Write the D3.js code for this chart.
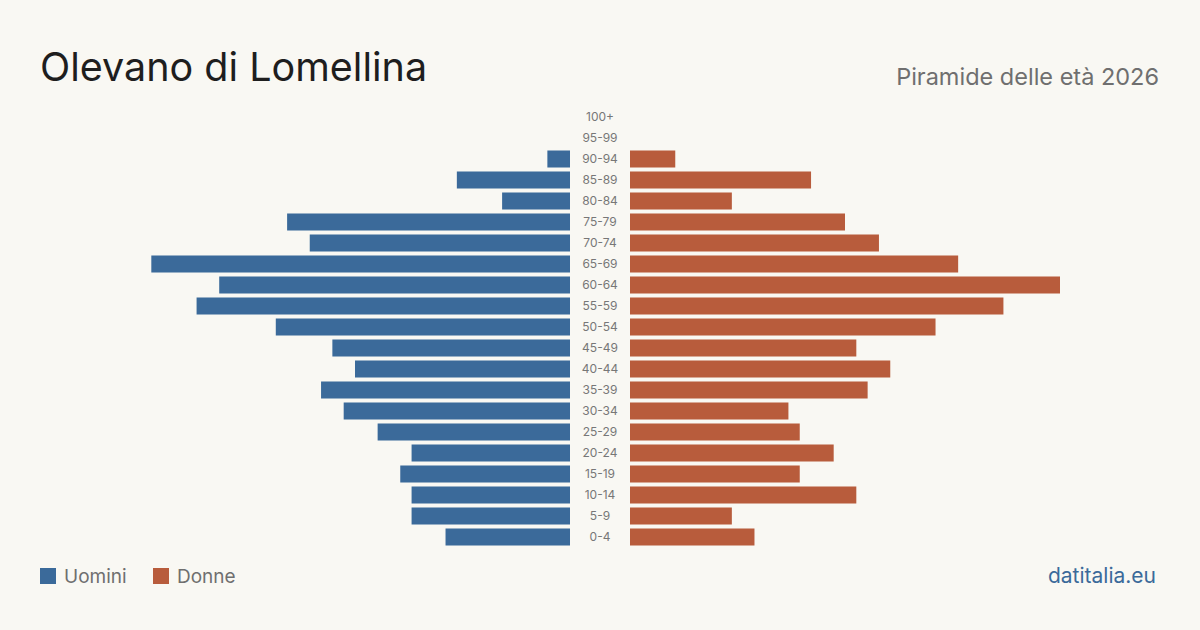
<!DOCTYPE html>
<html>
<head>
<meta charset="utf-8">
<script src="https://cdn.jsdelivr.net/npm/d3@7"></script>
<style>
  body { margin: 0; background: #f9f8f3; }
  svg { display: block; font-family: Inter, "Noto Sans", sans-serif; }
</style>
</head>
<body>
<div id="chart"></div>
<script>
// age classes, top to bottom
let ageGroups = ["100+","95-99","90-94","85-89","80-84","75-79","70-74","65-69","60-64","55-59","50-54",
                 "45-49","40-44","35-39","30-34","25-29","20-24","15-19","10-14","5-9","0-4"];
let males   = [0,0,2,10,6,25,23,37,31,33,26,21,19,22,20,17,14,15,14,14,11];
let females = [0,0,4,16,9,19,22,29,38,33,27,20,23,21,14,15,18,15,20,9,11];

let W = 1200, H = 630;
let svg = d3.select("#chart").append("svg").attr("width", W).attr("height", H);
svg.append("rect").attr("width", W).attr("height", H).attr("fill", "#f9f8f3");

let blue = "#3b6a9a", red = "#b85c3c";
let center = 600, gap = 30;
let maxV = d3.max(males.concat(females));

let y = d3.scaleBand().domain(ageGroups).range([106.5, 547.5]).paddingInner(0.19).paddingOuter(0.095);
let xL = d3.scaleLinear().domain([0, maxV]).range([center - gap, center - gap - 430]);
let xR = d3.scaleLinear().domain([0, maxV]).range([center + gap, center + gap + 430]);

let rows = ageGroups.map((a, i) => ({age: a, m: males[i], f: females[i]}));

svg.selectAll(".m").data(rows).enter().append("rect")
  .attr("x", d => xL(d.m)).attr("y", d => y(d.age))
  .attr("width", d => xL(0) - xL(d.m)).attr("height", y.bandwidth())
  .attr("fill", blue);

svg.selectAll(".f").data(rows).enter().append("rect")
  .attr("x", xR(0)).attr("y", d => y(d.age))
  .attr("width", d => xR(d.f) - xR(0)).attr("height", y.bandwidth())
  .attr("fill", red);

svg.selectAll(".lab").data(rows).enter().append("text")
  .attr("x", center).attr("y", d => y(d.age) + y.bandwidth() / 2)
  .attr("dy", "0.35em").attr("text-anchor", "middle")
  .attr("font-size", 12).attr("fill", "#777")
  .text(d => d.age);

// titles
svg.append("text").attr("x", 40).attr("y", 81).attr("font-size", 39.5).attr("fill", "#1e1e1e")
  .text("Olevano di Lomellina");
svg.append("text").attr("x", 1159).attr("y", 85).attr("text-anchor", "end")
  .attr("font-size", 23.5).attr("fill", "#6f6f6f").text("Piramide delle età 2026");

// legend
let legend = [{name: "Uomini", color: blue, x: 40}, {name: "Donne", color: red, x: 153}];
let lg = svg.selectAll(".lg").data(legend).enter().append("g");
lg.append("rect").attr("x", d => d.x).attr("y", 568).attr("width", 16).attr("height", 16).attr("fill", d => d.color);
lg.append("text").attr("x", d => d.x + 24).attr("y", 583).attr("font-size", 19).attr("fill", "#6f6f6f").text(d => d.name);

svg.append("text").attr("x", 1156).attr("y", 583).attr("text-anchor", "end")
  .attr("font-size", 21).attr("fill", blue).text("datitalia.eu");
</script>
</body>
</html>
